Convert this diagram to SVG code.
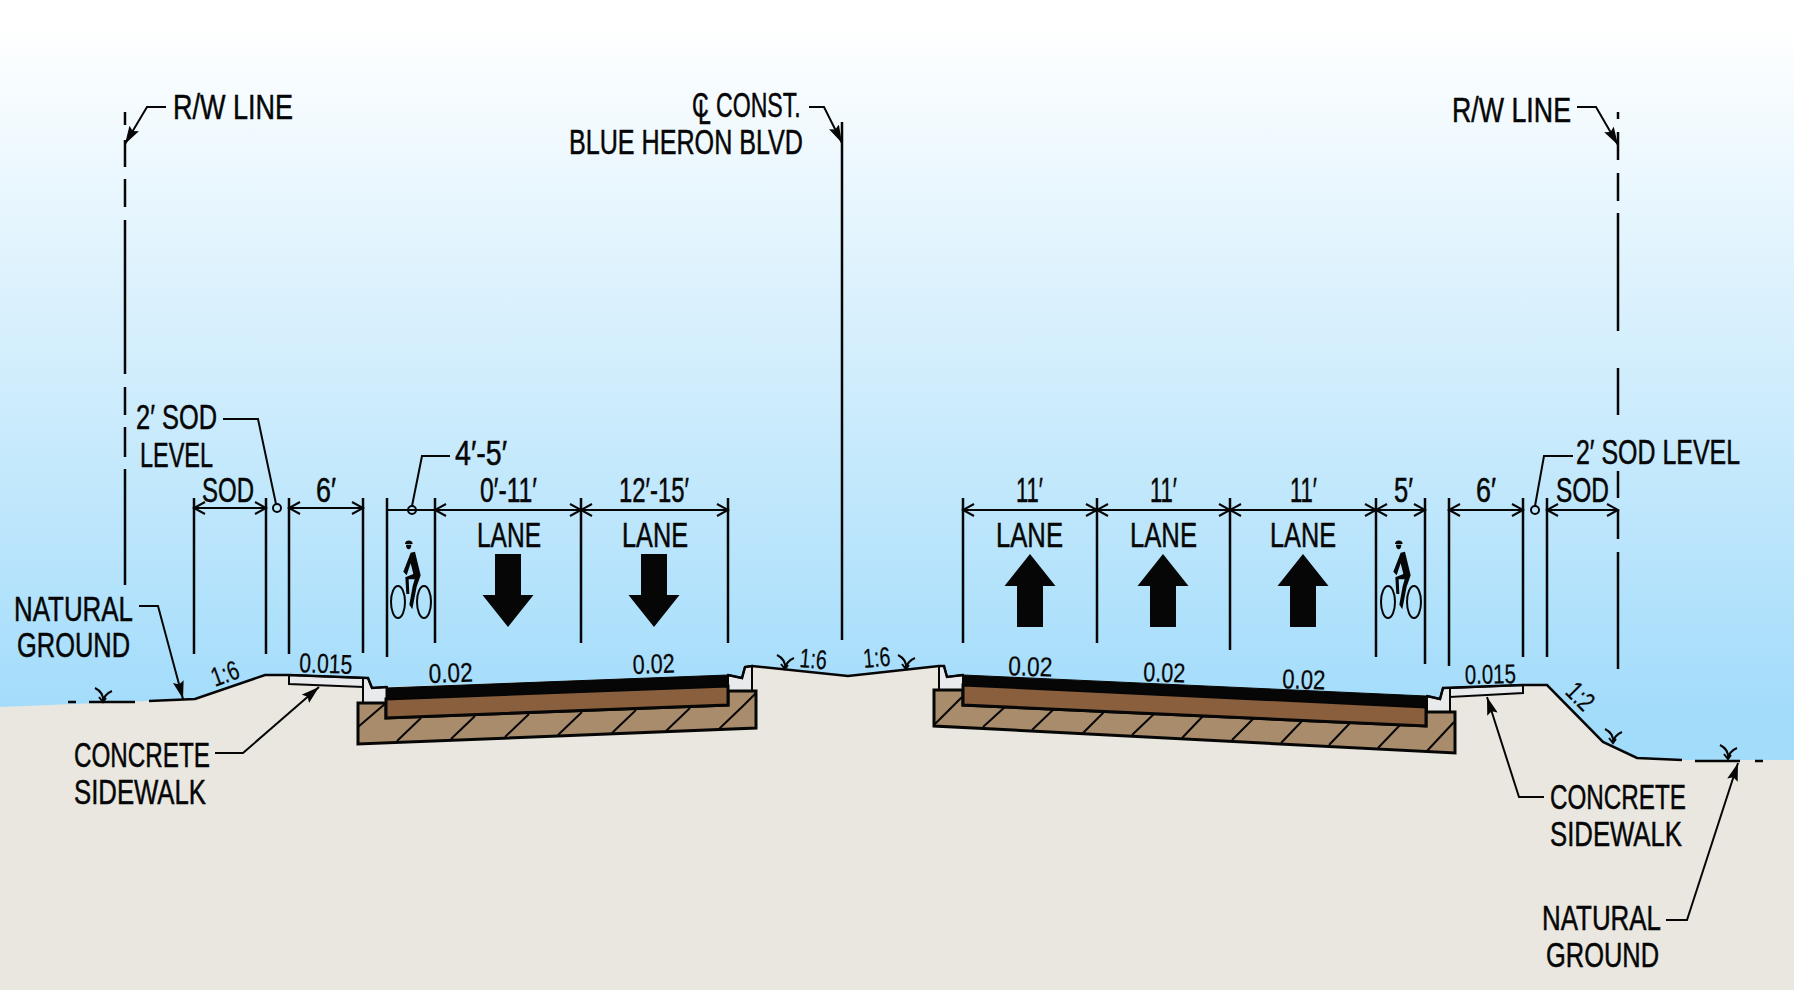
<svg xmlns="http://www.w3.org/2000/svg" width="1794" height="990" viewBox="0 0 1794 990">
<defs>
<linearGradient id="sky" gradientUnits="userSpaceOnUse" x1="0" y1="25" x2="0" y2="715"><stop offset="0" stop-color="#ffffff"/><stop offset="0.6" stop-color="#c8eafc"/><stop offset="1" stop-color="#a2dcfb"/></linearGradient>
<marker id="ah" viewBox="0 0 18 11" refX="18" refY="5.500" markerWidth="18" markerHeight="11" markerUnits="userSpaceOnUse" orient="auto"><path d="M0 0L18 5.500L0 11L3 5.500Z" fill="#060606"/></marker>
<path id="dn" d="M-13 -73V-32H-25.500L0 0L25.500 -32H13V-73Z" fill="#060606"/>
<g id="bike"><ellipse cx="398" cy="602" rx="7" ry="16" class="thin"/><ellipse cx="424" cy="602" rx="7" ry="16" class="thin"/><g transform="translate(370 470) scale(.3333)"><path d="M105 222C105 208 128 208 128 222ZM108 224H124C124 242 108 242 108 224ZM122 248L135 245L152 316L140 350L127 418L118 404L128 348L134 328L116 328L118 372L109 372L106 322L130 312L122 280L110 316L100 305Z" fill="#060606"/></g></g>
<path id="grass" d="M0 0C1 -6 -2 -11 -8 -14M0 0C1 -6 4 -9 9 -11M-4 -5L0 0L3 -4" fill="none" stroke="#060606" stroke-width="2"/>
</defs>
<style>
text{font-family:"Liberation Sans",Arial,sans-serif;fill:#060606;font-size:35px;stroke:#060606;stroke-width:.5}
.s{font-size:27px;stroke-width:.25}
.l{fill:none;stroke:#060606;stroke-width:2.500}
.thin{fill:none;stroke:#060606;stroke-width:2}
.m{fill:none;stroke:#060606;stroke-width:2;marker-end:url(#ah)}
.conc{fill:#e9eaeb;stroke:#060606;stroke-width:2}
.base{fill:#a88c6b;stroke:#060606;stroke-width:3}
.brown{fill:#8a5f3d;stroke:#060606;stroke-width:3}
</style>
<rect id="bg" width="1794" height="990" fill="url(#sky)"/>
<path id="earth" d="M0 707L195 699L265 675L289 675L368 678L372 688L387 687L728 675L742 678L745 667L752 666L848 676L939 666L944 666L947 677L963 675L1427 696L1440 699L1443 688L1523 685L1547 685L1603 742L1637 758L1682 760L1794 760V990H0Z" fill="#e9e7e0"/>
<g id="left-pavement">
<path class="conc" d="M363 678L368 678L372 688L387 687V703H363Z"/>
<path class="conc" d="M289 675L363 678V687L289 684Z"/>
<path class="conc" d="M728 675L742 678L745 667L752 666V691H728Z"/>
<path class="base" d="M358 703H386V718L728 705V691H756V728L358 744Z"/>
<path class="thin" d="M358 727L386 703M397 741L421 718M451 739L475 716M505 737L529 714M558 735L582 712M612 733L636 710M666 731L690 708M719 729L743 706L756 693"/>
<path class="brown" d="M386 699L728 686V705L386 718Z"/>
<path d="M386 688L728 675V686L386 699Z" fill="#060606" stroke="#060606"/>
</g>
<g id="right-pavement">
<path class="conc" d="M939 666H944L947 677L963 675V690H939Z"/>
<path class="conc" d="M1427 696L1440 699L1443 688H1450V712H1427Z"/>
<path class="conc" d="M1450 688L1523 685V693L1450 697Z"/>
<path class="base" d="M934 690H963V705L1426 726V712H1455V753L934 726Z"/>
<path class="thin" d="M934 725L962 697M983 727L1006 706M1032 730L1055 708M1083 733L1105 711M1132 735L1155 713M1182 738L1204 715M1232 740L1254 718M1281 743L1303 720M1329 745L1351 722M1378 748L1400 725M1427 751L1454 722"/>
<path class="brown" d="M963 685L1426 707V726L963 705Z"/>
<path d="M963 675L1426 696V707L963 685Z" fill="#060606" stroke="#060606"/>
</g>
<g id="connectors">
<path class="l" d="M125 112V125M125 140V167M125 179V207M125 220V374M125 387V415M125 427V457M125 469V585"/>
<path class="l" d="M1618 112V119M1618 132V160M1618 173V201M1618 213V331M1618 368V415M1618 471V498M1618 510V539M1618 552V669"/>
<path class="l" d="M842 122V640"/>
<path class="l" d="M68 702H76M89 702H135M149 701L195 699L265 675L289 675L368 678L372 688L387 687M728 675L742 678L745 667L752 666L848 676L939 666L944 666L947 677L963 675M1427 696L1440 699L1443 688L1523 685L1547 685L1603 742L1637 758L1682 760M1695 761H1740M1755 761H1763"/>
<path class="l" d="M194 498V654M266 498V654M289 498V654M363 498V653M387 498V657M435 498V643M581 498V643M728 498V643M963 498V643M1097 498V643M1230 498V650M1376 498V657M1425 498V664M1449 498V666M1523 498V657M1547 498V657"/>
<path class="thin" d="M194 508H266M289 508H363M387 510H728M963 510H1425M1449 510H1523M1547 510H1618"/>
<path class="thin" d="M205 502L194 508L205 514M255 502L266 508L255 514M300 502L289 508L300 514M352 502L363 508L352 514M446 504L435 510L446 516M570 504L581 510L570 516M592 504L581 510L592 516M717 504L728 510L717 516M974 504L963 510L974 516M1086 504L1097 510L1086 516M1108 504L1097 510L1108 516M1219 504L1230 510L1219 516M1241 504L1230 510L1241 516M1365 504L1376 510L1365 516M1387 504L1376 510L1387 516M1414 504L1425 510L1414 516M1460 504L1449 510L1460 516M1512 504L1523 510L1512 516M1558 504L1547 510L1558 516M1607 504L1618 510L1607 516"/>
<circle class="thin" cx="277" cy="508" r="4"/><circle class="thin" cx="412" cy="510" r="4"/><circle class="thin" cx="1535" cy="510" r="4"/>
<path class="m" d="M166 107H147L125 144"/>
<path class="m" d="M809 107H824L842 143"/>
<path class="m" d="M1577 107H1596L1618 145"/>
<path class="thin" d="M223 419H258L276 504"/>
<path class="thin" d="M450 456H422L412 506"/>
<path class="thin" d="M1573 456H1544L1535 506"/>
<path class="m" d="M139 606H158L183 699"/>
<path class="m" d="M215 753H243L319 687"/>
<path class="m" d="M1544 797H1519L1487 697"/>
<path class="m" d="M1666 920H1687L1738 763"/>
<use href="#grass" x="103" y="702"/><use href="#grass" x="785" y="669"/><use href="#grass" x="906" y="669"/><use href="#grass" x="1613" y="743"/><use href="#grass" x="1728" y="759"/>
</g>
<g id="lane-symbols">
<use href="#dn" x="508" y="627"/><use href="#dn" x="654" y="627"/>
<use href="#dn" transform="translate(1030 554) scale(1 -1)"/><use href="#dn" transform="translate(1163 554) scale(1 -1)"/><use href="#dn" transform="translate(1303 554) scale(1 -1)"/>
<use href="#bike"/><use href="#bike" x="990"/>
</g>
<g id="labels">
<text x="173" y="119" textLength="120" lengthAdjust="spacingAndGlyphs">R/W LINE</text>
<text x="1452" y="122" textLength="119" lengthAdjust="spacingAndGlyphs">R/W LINE</text>
<text transform="translate(692 117) scale(.66 1)">C<tspan x="9" dy="7">L</tspan><tspan x="36.400" dy="-7">CONST.</tspan></text>
<text x="569" y="154" textLength="234" lengthAdjust="spacingAndGlyphs">BLUE HERON BLVD</text>
<text x="136" y="429" textLength="81" lengthAdjust="spacingAndGlyphs">2′ SOD</text>
<text x="140" y="467" textLength="73" lengthAdjust="spacingAndGlyphs">LEVEL</text>
<text x="202" y="502" textLength="52" lengthAdjust="spacingAndGlyphs">SOD</text>
<text x="316" y="502" textLength="20" lengthAdjust="spacingAndGlyphs">6′</text>
<text x="455" y="465" textLength="52" lengthAdjust="spacingAndGlyphs">4′-5′</text>
<text x="480" y="502" textLength="57" lengthAdjust="spacingAndGlyphs">0′-11′</text>
<text x="619" y="502" textLength="70" lengthAdjust="spacingAndGlyphs">12′-15′</text>
<text x="1016" y="502" textLength="27" lengthAdjust="spacingAndGlyphs">11′</text>
<text x="1150" y="502" textLength="27" lengthAdjust="spacingAndGlyphs">11′</text>
<text x="1290" y="502" textLength="27" lengthAdjust="spacingAndGlyphs">11′</text>
<text x="1394" y="502" textLength="19" lengthAdjust="spacingAndGlyphs">5′</text>
<text x="1476" y="502" textLength="20" lengthAdjust="spacingAndGlyphs">6′</text>
<text x="1556" y="502" textLength="53" lengthAdjust="spacingAndGlyphs">SOD</text>
<text x="1576" y="464" textLength="164" lengthAdjust="spacingAndGlyphs">2′ SOD LEVEL</text>
<text x="477" y="547" textLength="64" lengthAdjust="spacingAndGlyphs">LANE</text>
<text x="622" y="547" textLength="66" lengthAdjust="spacingAndGlyphs">LANE</text>
<text x="996" y="547" textLength="67" lengthAdjust="spacingAndGlyphs">LANE</text>
<text x="1130" y="547" textLength="67" lengthAdjust="spacingAndGlyphs">LANE</text>
<text x="1270" y="547" textLength="66" lengthAdjust="spacingAndGlyphs">LANE</text>
<text x="14" y="621" textLength="119" lengthAdjust="spacingAndGlyphs">NATURAL</text>
<text x="17" y="657" textLength="113" lengthAdjust="spacingAndGlyphs">GROUND</text>
<text x="74" y="767" textLength="136" lengthAdjust="spacingAndGlyphs">CONCRETE</text>
<text x="74" y="804" textLength="132" lengthAdjust="spacingAndGlyphs">SIDEWALK</text>
<text x="1550" y="809" textLength="136" lengthAdjust="spacingAndGlyphs">CONCRETE</text>
<text x="1550" y="846" textLength="132" lengthAdjust="spacingAndGlyphs">SIDEWALK</text>
<text x="1542" y="930" textLength="119" lengthAdjust="spacingAndGlyphs">NATURAL</text>
<text x="1546" y="967" textLength="113" lengthAdjust="spacingAndGlyphs">GROUND</text>
<text class="s" x="299" y="672" textLength="53" lengthAdjust="spacingAndGlyphs" transform="rotate(2 299 672)">0.015</text>
<text class="s" x="1465" y="684" textLength="51" lengthAdjust="spacingAndGlyphs" transform="rotate(-1 1465 684)">0.015</text>
<text class="s" x="429" y="683" textLength="44" lengthAdjust="spacingAndGlyphs" transform="rotate(-2 429 683)">0.02</text>
<text class="s" x="633" y="674" textLength="42" lengthAdjust="spacingAndGlyphs" transform="rotate(-2 633 674)">0.02</text>
<text class="s" x="1008" y="675" textLength="44" lengthAdjust="spacingAndGlyphs" transform="rotate(2 1008 675)">0.02</text>
<text class="s" x="1143" y="681" textLength="42" lengthAdjust="spacingAndGlyphs" transform="rotate(2 1143 681)">0.02</text>
<text class="s" x="1282" y="688" textLength="43" lengthAdjust="spacingAndGlyphs" transform="rotate(2 1282 688)">0.02</text>
<text class="s" x="215" y="687" textLength="28" lengthAdjust="spacingAndGlyphs" transform="rotate(-20 215 687)">1:6</text>
<text class="s" x="799" y="667" textLength="27" lengthAdjust="spacingAndGlyphs" transform="rotate(5 799 667)">1:6</text>
<text class="s" x="864" y="668" textLength="27" lengthAdjust="spacingAndGlyphs" transform="rotate(-5 864 668)">1:6</text>
<text class="s" x="1564" y="693" textLength="28" lengthAdjust="spacingAndGlyphs" transform="rotate(45 1564 693)">1:2</text>
</g>
</svg>
